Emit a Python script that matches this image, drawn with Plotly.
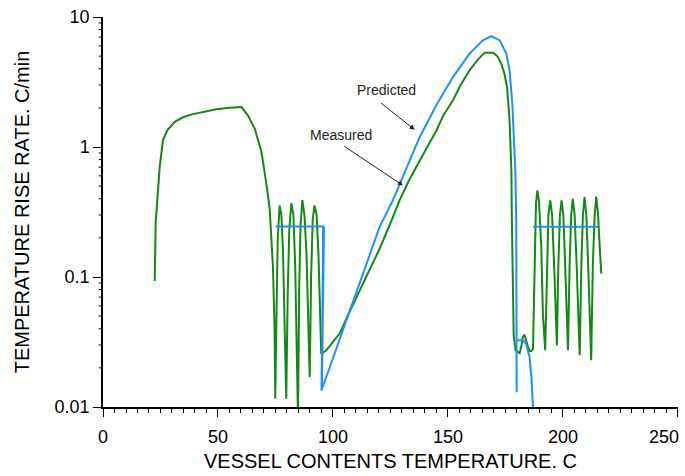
import numpy as np
import plotly.graph_objects as go

# Measured (green) curve: temperature (C), rise rate (C/min)
meas_x = [22.5, 22.9, 23.9, 24.65, 26.1, 28.0, 31.2, 35.0, 39.1, 44.0, 49.3, 55.0, 60.2, 63.0, 66.0,
          68.9, 70.3, 71.5, 72.5, 73.9, 74.6, 74.9,
          75.5, 76.0, 76.8, 77.6, 78.3, 79.0, 79.7,
          80.3, 81.0, 81.9, 82.8, 83.6, 84.3, 84.8,
          85.3, 85.9, 86.7, 87.6, 88.5, 89.3, 89.9,
          90.5, 91.2, 92.0, 92.9, 93.7, 94.4, 94.9,
          95.3, 97.1, 99.0, 102.9, 107.0, 111.6, 116.0, 120.3, 125.0, 129.0, 133.0, 137.7, 141.0,
          145.0, 148.0, 152.2, 155.5, 159.4, 163.0, 166.0, 169.6, 171.5, 173.2, 174.5, 175.7,
          176.8, 177.6, 177.8, 178.3, 178.6, 179.4,
          180.3, 181.2, 182.0, 182.6, 183.3, 184.0, 184.8, 185.5, 186.3, 187.0,
          187.7, 188.3, 188.9, 189.6, 190.6, 191.3, 192.3,
          193.0, 193.7, 194.5, 195.3, 196.2, 196.8, 197.4,
          198.0, 198.7, 199.4, 200.2, 201.0, 201.6, 202.2,
          202.9, 203.6, 204.3, 205.1, 206.0, 206.7, 207.3,
          208.0, 208.7, 209.4, 210.2, 211.0, 211.7, 212.3,
          213.0, 213.8, 214.5, 215.3, 216.0, 216.7]
meas_y = [0.093, 0.258, 0.46, 0.70, 1.13, 1.35, 1.56, 1.70, 1.79, 1.87, 1.95, 2.0, 2.03, 1.75, 1.38,
          0.92, 0.66, 0.46, 0.33, 0.12, 0.04, 0.0116,
          0.06, 0.2, 0.355, 0.3, 0.15, 0.05, 0.0116,
          0.07, 0.23, 0.37, 0.3, 0.12, 0.03, 0.008,
          0.08, 0.25, 0.39, 0.3, 0.15, 0.05, 0.017,
          0.1, 0.28, 0.355, 0.3, 0.15, 0.05, 0.0257,
          0.026, 0.0273, 0.030, 0.0367, 0.053, 0.079, 0.115, 0.165, 0.26, 0.39, 0.55, 0.79, 1.0,
          1.34, 1.75, 2.29, 3.0, 3.89, 4.7, 5.32, 5.32, 5.0, 4.38, 3.7, 2.89,
          1.6, 0.66, 0.273, 0.106, 0.0356, 0.0273,
          0.0265, 0.026, 0.030, 0.0345, 0.036, 0.032, 0.029, 0.027, 0.027, 0.028,
          0.17, 0.37, 0.464, 0.38, 0.17, 0.052, 0.0273,
          0.12, 0.30, 0.389, 0.30, 0.12, 0.05, 0.0298,
          0.12, 0.30, 0.389, 0.30, 0.12, 0.05, 0.0273,
          0.12, 0.30, 0.40, 0.30, 0.12, 0.05, 0.025,
          0.12, 0.30, 0.412, 0.30, 0.12, 0.05, 0.0229,
          0.12, 0.30, 0.415, 0.30, 0.17, 0.106]

# Predicted (blue) curve; None separates pieces
pred_x = [75.1, 95.7, 95.2, 95.9, 95.4, 96.1, 95.0,
          120.3, 126.1, 137.7, 145.0, 152.2, 159.4, 165.2, 168.9, 172.5, 175.4, 176.8,
          178.0, 178.7, 179.3, 179.7, 179.9,
          None,
          179.8, 182.6, 184.0, 185.5, 186.3, 187.0,
          None,
          187.0, 215.2]
pred_y = [0.245, 0.245, 0.0134, 0.245, 0.0134, 0.245, 0.0134,
          0.243, 0.39, 1.19, 2.1, 3.45, 5.23, 6.61, 7.14, 6.61, 5.23, 3.89,
          2.16, 1.19, 0.66, 0.273, 0.013,
          None,
          0.0326, 0.0326, 0.0307, 0.0243, 0.017, 0.0098,
          None,
          0.243, 0.243]

x_ticks = [0, 50, 100, 150, 200, 250]
x_tick_text = ["0", "50", "100", "150", "200", ""]
y_ticks = [0.01, 0.1, 1, 10]
y_tick_text = ["0.01", "0.1", "1", "10"]
y_minor = [m * d for d in (0.01, 0.1, 1) for m in range(2, 10)]
Y_LOG_MIN, Y_LOG_MAX = -2, 1

GREEN = "#138a13"
BLUE = "#1e8fff"
FONT = "Liberation Sans, Arial, sans-serif"

fig = go.Figure()
fig.add_trace(go.Scatter(x=meas_x, y=meas_y, mode="lines",
                         line=dict(color=GREEN, width=2), name="Measured",
                         showlegend=False))
fig.add_trace(go.Scatter(x=pred_x, y=pred_y, mode="lines",
                         line=dict(color=BLUE, width=2), name="Predicted",
                         connectgaps=False, showlegend=False))

# minor y ticks (log decades 2..9) drawn as short outside tick marks (paper coords)
for v in y_minor:
    yp = (np.log10(v) - Y_LOG_MIN) / (Y_LOG_MAX - Y_LOG_MIN)
    fig.add_shape(type="line", xref="paper", yref="paper", x0=-0.0075, x1=0,
                  y0=yp, y1=yp, line=dict(color="black", width=1), layer="above")

# annotation texts and arrows (log axis -> annotation y in log10 units)
fig.add_annotation(x=123.2, y=np.log10(2.73), text="Predicted", showarrow=False,
                   font=dict(size=14, color="#222222", family=FONT))
fig.add_annotation(x=135.5, y=np.log10(1.36), ax=120.3, ay=np.log10(2.22),
                   axref="x", ayref="y", text="", showarrow=True,
                   arrowhead=2, arrowsize=1, arrowwidth=1, arrowcolor="#222222")
fig.add_annotation(x=103.7, y=np.log10(1.23), text="Measured", showarrow=False,
                   font=dict(size=14, color="#222222", family=FONT))
fig.add_annotation(x=130.4, y=np.log10(0.507), ax=104.3, ay=np.log10(1.03),
                   axref="x", ayref="y", text="", showarrow=True,
                   arrowhead=2, arrowsize=1, arrowwidth=1, arrowcolor="#222222")
# last x tick label, shifted left to stay inside the page like the reference
fig.add_annotation(x=250, xref="x", xanchor="right", xshift=3, y=-0.078, yref="paper",
                   yanchor="middle", text="250", showarrow=False,
                   font=dict(size=18, color="black", family=FONT))

fig.update_layout(
    width=685, height=476,
    margin=dict(l=103, r=7, t=17, b=69),
    paper_bgcolor="white", plot_bgcolor="white",
    font=dict(family=FONT, size=18, color="black"),
    xaxis=dict(range=[0, 250.05], tickvals=x_ticks, ticktext=x_tick_text,
               ticks="outside", ticklen=8, ticklabelstandoff=5,
               tickcolor="black", tickwidth=1, showline=True, linecolor="black",
               linewidth=1.5, showgrid=False, zeroline=False,
               minor=dict(dtick=5, tick0=0, ticks="outside", ticklen=4, tickcolor="black",
                          tickwidth=1, showgrid=False),
               title=dict(text="VESSEL CONTENTS TEMPERATURE. C", standoff=8,
                          font=dict(size=20)),
               tickfont=dict(size=18)),
    yaxis=dict(type="log", range=[Y_LOG_MIN, Y_LOG_MAX], tickvals=y_ticks,
               ticktext=y_tick_text,
               ticks="outside", ticklen=8, tickcolor="black", tickwidth=1,
               showline=True, linecolor="black", linewidth=1.5, showgrid=False,
               zeroline=False,
               title=dict(text="TEMPERATURE RISE RATE. C/min", standoff=20,
                          font=dict(size=20)),
               tickfont=dict(size=18)),
)

fig.write_html("out.html")
